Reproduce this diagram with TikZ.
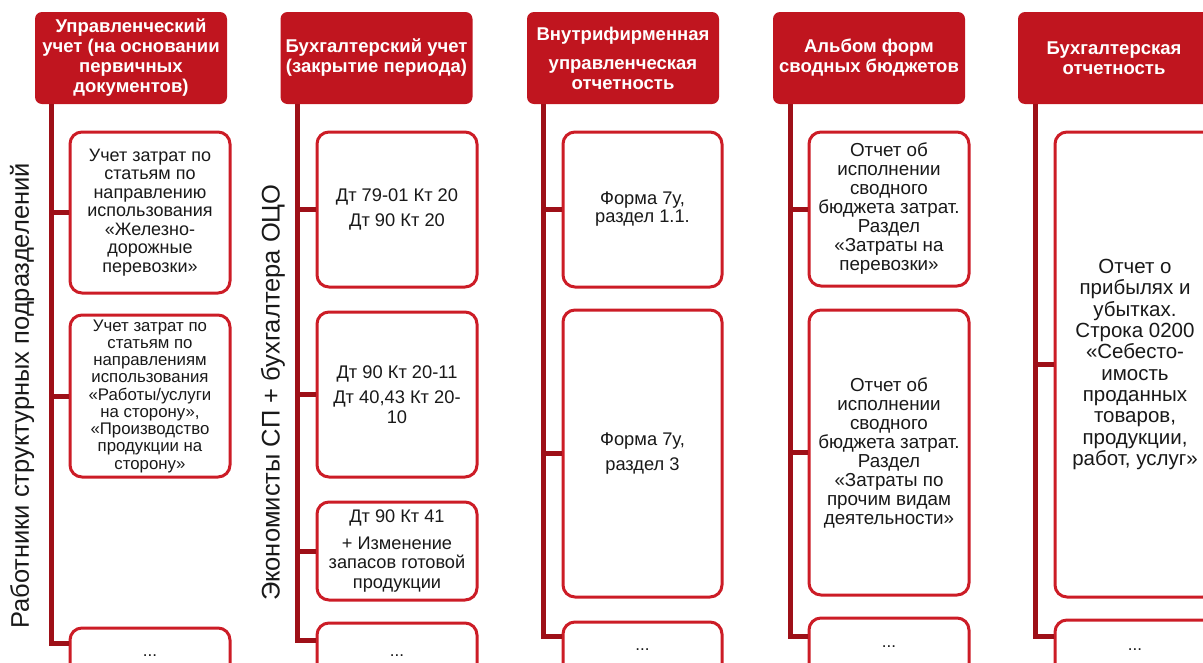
\documentclass[tikz,border=0pt]{standalone}
\usepackage{fontspec}
\setmainfont{Liberation Sans}
\definecolor{hdrred}{RGB}{192,21,31}
\definecolor{boxred}{RGB}{204,28,38}
\definecolor{connred}{RGB}{158,16,24}
\definecolor{txt}{RGB}{25,25,25}
\tikzset{
  hdr/.style={fill=hdrred, rounded corners=7pt, text=white, align=center,
    font=\fontsize{18.5}{20}\selectfont\bfseries, minimum width=192pt, minimum height=92pt, inner sep=2pt},
  box/.style={draw=boxred, line width=3pt, fill=white, rounded corners=12pt, align=center,
    text=txt, minimum width=160pt, inner sep=2pt},
  conn/.style={draw=connred, line width=5pt},
  rot/.style={rotate=90, font=\fontsize{25.5}{28}\selectfont, text=txt, inner sep=0pt}
}
\begin{document}
\begin{tikzpicture}[x=1pt,y=-1pt]
\useasboundingbox (0,0) rectangle (1203,662);
\clip (0,0) rectangle (1203,662);

% headers
\node[hdr] (h1) at (131,58) {Управленческий\\учет (на основании\\первичных\\документов)};
\node[hdr] (h2) at (376.5,58) {Бухгалтерский учет\\(закрытие периода)};
\node[hdr] (h3) at (623,58) {Внутрифирменная\\[9pt]управленческая\\отчетность};
\node[hdr] (h4) at (869,58) {Альбом форм\\сводных бюджетов};
\node[hdr] (h5) at (1114,58) {Бухгалтерская\\отчетность};

% side labels
\node[rot] (r1) at (22,396) {Работники структурных подразделений};
\node[rot] (r2) at (273,393) {Экономисты СП + бухгалтера ОЦО};

% column 1
\node[box, minimum height=161pt, font=\fontsize{18}{18.5}\selectfont] (b11) at (150,212.5)
  {Учет затрат по\\статьям по\\направлению\\использования\\«Железно-\\дорожные\\перевозки»};
\node[box, minimum height=162pt, font=\fontsize{16.8}{17.25}\selectfont] (b12) at (150,396)
  {Учет затрат по\\статьям по\\направлениям\\использования\\«Работы/услуги\\на сторону»,\\«Производство\\продукции на\\сторону»};
\node[box, minimum height=56pt, font=\fontsize{17}{19}\selectfont] (b13) at (150,656) {...};

% column 2
\node[box, minimum height=155pt, font=\fontsize{18.3}{20}\selectfont] (b21) at (397,209.5)
  {Дт 79-01 Кт 20\\[5pt]Дт 90 Кт 20};
\node[box, minimum height=165pt, font=\fontsize{18.3}{19.5}\selectfont] (b22) at (397,394.5)
  {Дт 90 Кт 20-11\\[6pt]Дт 40,43 Кт 20-\\10};
\node[box, minimum height=98pt, font=\fontsize{18.2}{19.5}\selectfont] (b23) at (397,551)
  {Дт 90 Кт 41\\[7pt]+ Изменение\\запасов готовой\\продукции};
\node[box, minimum height=66pt, font=\fontsize{17}{19}\selectfont] (b24) at (397,656) {...};

% column 3
\node[box, minimum width=159pt, minimum height=155pt, font=\fontsize{18.3}{18}\selectfont] (b31) at (642.5,209.5)
  {Форма 7у,\\раздел 1.1.};
\node[box, minimum width=159pt, minimum height=287pt, font=\fontsize{18.3}{19}\selectfont] (b32) at (642.5,453.5)
  {Форма 7у,\\[6pt]раздел 3};
\node[box, minimum width=159pt, minimum height=56pt, font=\fontsize{17}{19}\selectfont] (b33) at (642.5,650) {...};

% column 4
\node[box, minimum height=154pt, font=\fontsize{18.8}{19}\selectfont] (b41) at (889,209)
  {Отчет об\\исполнении\\сводного\\бюджета затрат.\\Раздел\\«Затраты на\\перевозки»};
\node[box, minimum height=285pt, font=\fontsize{18.8}{19}\selectfont] (b42) at (889,452.5)
  {Отчет об\\исполнении\\сводного\\бюджета затрат.\\Раздел\\«Затраты по\\прочим видам\\деятельности»};
\node[box, minimum height=58pt, font=\fontsize{17}{19}\selectfont] (b43) at (889,647) {...};

% column 5
\node[box, minimum height=465pt, font=\fontsize{20.5}{21.3}\selectfont] (b51) at (1135,364.5)
  {Отчет о\\прибылях и\\убытках.\\Строка 0200\\«Себесто-\\имость\\проданных\\товаров,\\продукции,\\работ, услуг»};
\node[box, minimum height=60pt, font=\fontsize{17}{19}\selectfont] (b52) at (1135,650) {...};

% connectors
\coordinate (v1) at ([xshift=17pt]h1.south west);
\coordinate (v2) at ([xshift=17pt]h2.south west);
\coordinate (v3) at ([xshift=17pt]h3.south west);
\coordinate (v4) at ([xshift=18pt]h4.south west);
\coordinate (v5) at ([xshift=18pt]h5.south west);

\draw[conn] (v1) |- ([yshift=-17pt]b13.north west);
\draw[conn] (v1 |- b11.west) -- (b11.west);
\draw[conn] (v1 |- b12.west) -- (b12.west);

\draw[conn] (v2) |- ([yshift=-19pt]b24.north west);
\draw[conn] (v2 |- b21.west) -- (b21.west);
\draw[conn] (v2 |- b22.west) -- (b22.west);
\draw[conn] (v2 |- b23.west) -- (b23.west);

\draw[conn] (v3) |- ([yshift=-16pt]b33.north west);
\draw[conn] (v3 |- b31.west) -- (b31.west);
\draw[conn] (v3 |- b32.west) -- (b32.west);

\draw[conn] (v4) |- ([yshift=-20pt]b43.north west);
\draw[conn] (v4 |- b41.west) -- (b41.west);
\draw[conn] (v4 |- b42.west) -- (b42.west);

\draw[conn] (v5) |- ([yshift=-18pt]b52.north west);
\draw[conn] (v5 |- b51.west) -- (b51.west);
\end{tikzpicture}
\end{document}
